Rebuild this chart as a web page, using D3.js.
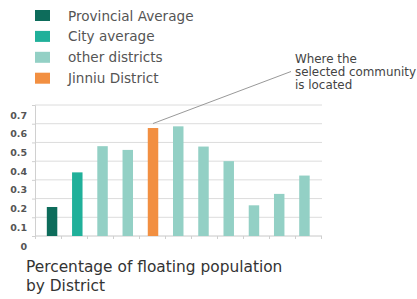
<!DOCTYPE html>
<html>
<head>
	<title>Floating population by district</title>
	<meta charset="utf-8">
	<script src="https://cdnjs.cloudflare.com/ajax/libs/d3/7.8.5/d3.min.js"></script>
	<style>
		body { margin: 0; background: #fff; }
		text { font-family: "DejaVu Sans", sans-serif; }
	</style>
</head>
<body>
	<script type="text/javascript">

		// data
		let bars = ['p', 'c', 'd1', 'd2', 'jinniu', 'd3', 'd4', 'd5', 'd6', 'd7', 'd8'];
		let kinds = ['province', 'city', 'other', 'other', 'jinniu', 'other', 'other', 'other', 'other', 'other', 'other'];
		let values = [0.155, 0.34, 0.48, 0.46, 0.577, 0.586, 0.478, 0.40, 0.164, 0.225, 0.323];
		let yTicks = [0, 0.1, 0.2, 0.3, 0.4, 0.5, 0.6, 0.7];

		let legendKinds = ['province', 'city', 'other', 'jinniu'];
		let legendLabels = ['Provincial Average', 'City average', 'other districts', 'Jinniu District'];
		let noteLines = ['Where the', 'selected community', 'is located'];
		let titleLines = ['Percentage of floating population', 'by District'];

		let color = d3.scaleOrdinal()
			.domain(['province', 'city', 'other', 'jinniu'])
			.range(['#0d6c5b', '#20b09a', '#93d0c5', '#f28f41']);

		let svg = d3.select('body').append('svg');
		svg.attr('width', 417);
		svg.attr('height', 299);

		let y = d3.scaleLinear().domain([0, 0.7]).range([236, 105]);
		let x = d3.scaleBand().domain(bars).range([39.5, 317]).paddingInner(0.585).paddingOuter(0.29);
		let xt = d3.scaleBand().domain(bars).range([35.5, 321.5]);

		// gridlines
		svg.append('g').selectAll('line').data(yTicks).enter().append('line')
			.attr('x1', 35).attr('x2', 322)
			.attr('y1', d => y(d)).attr('y2', d => y(d))
			.attr('stroke', d => d === 0 ? '#c8c8c8' : '#dcdcdc')
			.attr('stroke-width', 1);

		// y axis: line + small ticks, labels sit half a step below their line
		let yAxis = svg.append('g').attr('transform', 'translate(35,0)')
			.call(d3.axisLeft(y).tickValues(yTicks).tickSize(3).tickFormat(''));
		yAxis.selectAll('path, line').attr('stroke', '#d0d0d0');

		svg.append('g').selectAll('text').data(yTicks).enter().append('text')
			.attr('x', 27)
			.attr('y', d => y(d) + 13.5)
			.attr('text-anchor', 'end')
			.attr('font-size', 9.5)
			.attr('font-weight', 'bold')
			.attr('fill', '#555')
			.text(d => d3.format('.1~f')(d));

		// x ticks at band edges
		let edges = bars.map(b => xt(b)).concat([xt.range()[1]]);
		svg.append('g').selectAll('line').data(edges).enter().append('line')
			.attr('x1', d => d).attr('x2', d => d)
			.attr('y1', 236).attr('y2', 239)
			.attr('stroke', '#d0d0d0');

		// bars
		svg.append('g').selectAll('rect').data(values).enter().append('rect')
			.attr('x', (d, i) => x(bars[i]))
			.attr('width', x.bandwidth())
			.attr('y', d => y(d))
			.attr('height', d => y(0) - y(d))
			.attr('fill', (d, i) => color(kinds[i]));

		// legend
		let legend = svg.append('g').selectAll('g').data(legendLabels).enter().append('g')
			.attr('transform', (d, i) => 'translate(35,' + (10 + i * 20.9) + ')');
		legend.append('rect')
			.attr('width', 15).attr('height', 11)
			.attr('fill', (d, i) => color(legendKinds[i]));
		legend.append('text')
			.attr('x', 33).attr('y', 10.5)
			.attr('font-size', 13.6)
			.attr('fill', '#555')
			.text(d => d);

		// annotation pointing at Jinniu
		let jx = x('jinniu') + x.bandwidth() / 2;
		svg.append('line')
			.attr('x1', jx).attr('y1', y(values[4]) - 4.5)
			.attr('x2', 291).attr('y2', 71.5)
			.attr('stroke', '#999').attr('stroke-width', 1);
		svg.append('g').selectAll('text').data(noteLines).enter().append('text')
			.attr('x', 295)
			.attr('y', (d, i) => 63.3 + i * 13)
			.attr('font-size', 11.9)
			.attr('fill', '#444')
			.text(d => d);

		// title
		svg.append('g').selectAll('text').data(titleLines).enter().append('text')
			.attr('x', 26)
			.attr('y', (d, i) => 272 + i * 18.5)
			.attr('font-size', 15.4)
			.attr('fill', '#333')
			.text(d => d);

	</script>
</body>
</html>
